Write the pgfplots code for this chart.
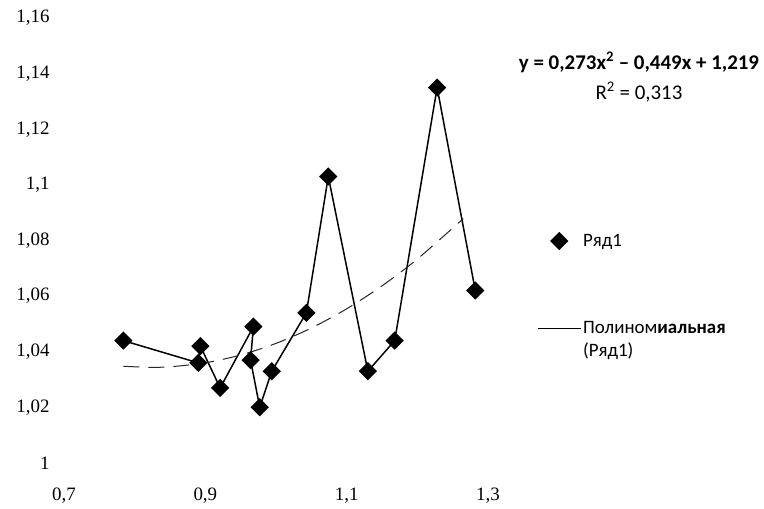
\documentclass[border=0pt]{standalone}
\usepackage{fontspec}
\setmainfont{Carlito}
\newfontfamily\tickfont{Liberation Serif}
\usepackage{pgfplots}
\pgfplotsset{compat=1.18}
\begin{document}
\begin{tikzpicture}[x=1bp,y=1bp]
\useasboundingbox (0,0) rectangle (764,509);
\begin{axis}[
  at={(64bp,46bp)}, anchor=south west,
  scale only axis, width=424bp, height=445bp,
  xmin=0.7, xmax=1.3, ymin=1, ymax=1.16,
  xtick={0.7,0.9,1.1,1.3},
  ytick={1,1.02,1.04,1.06,1.08,1.1,1.12,1.14,1.16},
  axis line style={draw=none},
  major tick length=0pt,
  clip=false,
  tick label style={font=\fontsize{19}{19}\selectfont\tickfont},
  /pgf/number format/use comma,
  /pgf/number format/fixed,
  /pgf/number format/precision=2,
  /pgf/number format/assume math mode=true,
  yticklabel style={anchor=east, xshift=-11bp},
  xticklabel style={anchor=north, yshift=-21bp},
  legend style={draw=none, fill=none, at={(1.1156,0.5191)}, anchor=north west,
    font=\fontsize{19}{23}\selectfont, row sep=70bp, inner sep=0pt,
    cells={align=left}},
  legend cell align=left,
]
\addplot[black, line width=1.5bp, mark=square*, mark size=5.7bp,
  mark options={rotate=45, solid, fill=black},
  legend image code/.code={\draw[mark=square*, mark size=5.7bp, mark options={rotate=45, fill=black}] plot coordinates {(21.5bp,0bp)};}]
coordinates {
(0.784,1.044) (0.890,1.036) (0.893,1.042) (0.921,1.027) (0.968,1.049)
(0.964,1.037) (0.977,1.020) (0.994,1.033) (1.043,1.054) (1.074,1.103)
(1.130,1.033) (1.168,1.044) (1.228,1.135) (1.282,1.062)
};
\addlegendentry{Ряд1}
\addplot[black!85, line width=1bp, dash pattern=on 16bp off 9bp, smooth,
  legend image code/.code={\draw[black, solid, line width=1bp] (0bp,11.5bp) -- (43bp,11.5bp);}]
coordinates {
(0.784,1.03478) (0.82,1.03441) (0.85,1.03459) (0.9,1.03603) (0.95,1.03883)
(1.0,1.04300) (1.05,1.04853) (1.1,1.05543) (1.15,1.06369) (1.2,1.07332)
(1.265,1.08787)
};
\addlegendentry{Полином\textbf{иальная}\\(Ряд1)}
\end{axis}
\node[align=center, font=\fontsize{21}{30}\selectfont] at (639,432)
  {\textbf{y = 0,273x\textsuperscript{2} – 0,449x + 1,219}\\R\textsuperscript{2} = 0,313};
\end{tikzpicture}
\end{document}
